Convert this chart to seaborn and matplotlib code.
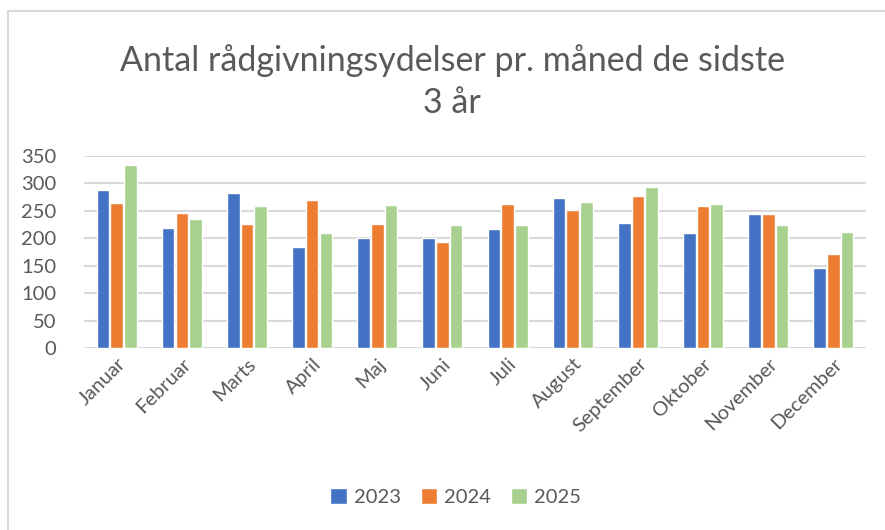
import matplotlib.pyplot as plt
from matplotlib.patches import Rectangle
import seaborn as sns
import pandas as pd

months = ['Januar', 'Februar', 'Marts', 'April', 'Maj', 'Juni', 'Juli',
          'August', 'September', 'Oktober', 'November', 'December']
years = ['2023', '2024', '2025']
v2023 = [287, 219, 282, 184, 201, 200, 217, 274, 228, 210, 244, 146]
v2024 = [265, 246, 226, 270, 226, 193, 262, 251, 276, 259, 244, 172]
v2025 = [333, 235, 258, 210, 260, 224, 224, 266, 293, 263, 224, 212]
colors = ['#4472C4', '#ED7D31', '#A9D18E']
title = 'Antal rådgivningsydelser pr. måned de sidste\n3 år'

df = pd.DataFrame({
    'month': months * 3,
    'year': [y for y in years for _ in months],
    'value': v2023 + v2024 + v2025,
})

sns.set_style('white')
plt.rcParams['font.family'] = ['Lato', 'DejaVu Sans']
text_c = '#595959'

fig = plt.figure(figsize=(8.85, 5.3), dpi=100)
ax = fig.add_axes([0.095, 0.343, 0.8835, 0.363])

sns.barplot(data=df, x='month', y='value', hue='year', palette=colors,
            order=months, hue_order=years, width=0.63, gap=0.08,
            saturation=1, ax=ax, legend=True)

ax.set_ylim(0, 350)
ax.set_yticks(range(0, 351, 50))
ax.set_xlim(-0.5, len(months) - 0.5)
ax.grid(axis='y', color='#D9D9D9', linewidth=1.5)
ax.set_axisbelow(True)
for s in ax.spines.values():
    s.set_visible(False)
ax.set_xlabel('')
ax.set_ylabel('')
ax.tick_params(axis='both', length=0, colors=text_c, labelsize=14.5)
ax.tick_params(axis='y', pad=20)
plt.setp(ax.get_xticklabels(), rotation=45, ha='right', va='top',
         rotation_mode='anchor')
ax.tick_params(axis='x', pad=5)

handles, labels = ax.get_legend_handles_labels()
ax.legend_.remove()
fig.legend(handles, labels, loc='center', bbox_to_anchor=(0.515, 0.062),
           ncol=3, frameon=False, fontsize=14.5, handlelength=0.8,
           handleheight=0.8, columnspacing=1.0, handletextpad=0.35,
           labelcolor=text_c)

fig.text(0.511, 0.846, title, ha='center', va='center', fontsize=24.5,
         color=text_c, linespacing=1.35)

fig.patches.append(Rectangle((8 / 885, -0.1), 1.2, 1.1 - 11 / 530,
                             transform=fig.transFigure, fill=False,
                             edgecolor='#D9D9D9', linewidth=1.5))

fig.savefig('out.png', dpi=100)
